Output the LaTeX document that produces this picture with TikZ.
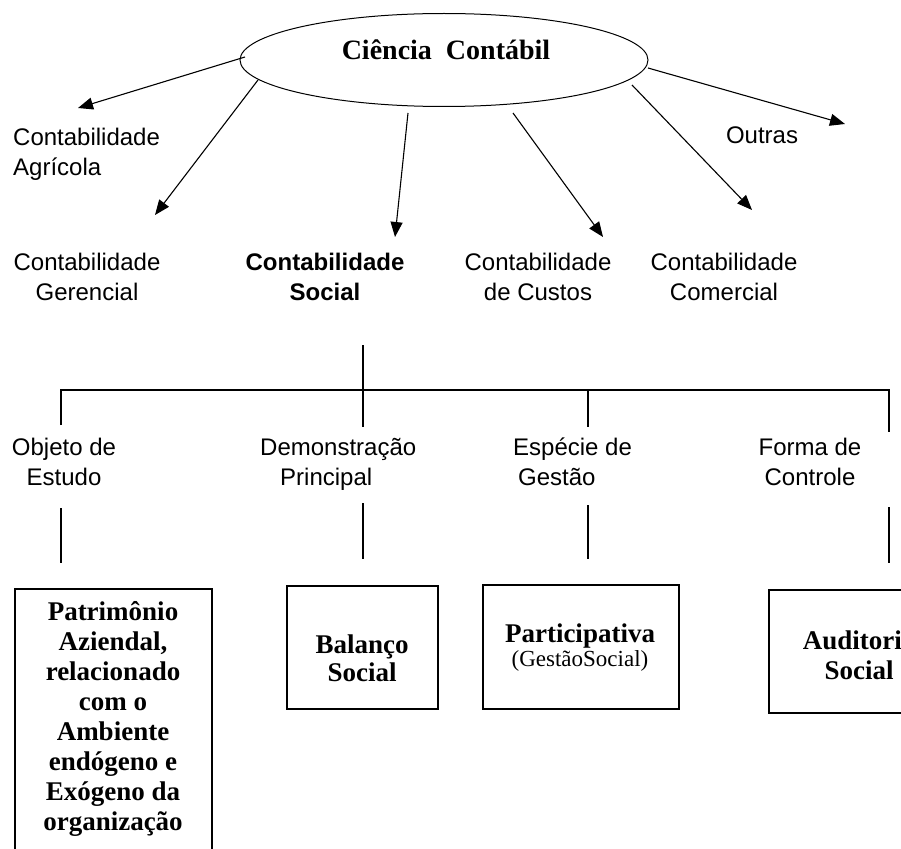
\documentclass[tikz,border=0pt]{standalone}
\usepackage{fontspec}
\setmainfont{Liberation Serif}
\newfontfamily\arialf{Liberation Sans}
\usetikzlibrary{shapes.geometric,arrows.meta}
\begin{document}
\begin{tikzpicture}[x=1pt,y=-1pt,
  lbl/.style={font=\arialf\fontsize{24}{30}\selectfont, inner sep=0pt, align=center},
  blbl/.style={font=\arialf\bfseries\fontsize{24}{30}\selectfont, inner sep=0pt, align=center},
  boxtxt/.style={font=\bfseries\fontsize{27}{30}\selectfont, align=center, inner sep=0pt},
  bx/.style={draw, line width=1.6pt, inner sep=0pt},
  arr/.style={-{Triangle[length=15pt,width=12pt]}, line width=1.1pt},
  ln/.style={line width=1.3pt}]
\useasboundingbox (0,0) rectangle (901,848);
\clip (0,0) rectangle (901,848);

% top ellipse
\node[ellipse, draw, line width=1pt, minimum width=408pt, minimum height=93pt, inner sep=0pt] (cc) at (444,60) {};
\node[font=\bfseries\fontsize{28}{30}\selectfont, inner sep=0pt] (cct) at (446,50) {Ciência\ \ Contábil};

% branch labels
\node[lbl, align=left, anchor=west] (agr) at (13,154) {Contabilidade\\Agrícola};
\node[lbl] (ger) at (87,277) {Contabilidade\\Gerencial};
\node[blbl] (soc) at (325,277) {Contabilidade\\Social};
\node[lbl] (cus) at (538,277) {Contabilidade\\de Custos};
\node[lbl] (com) at (724,277) {Contabilidade\\Comercial};
\node[lbl] (out) at (762,135) {Outras};

% arrow points
\coordinate (s1) at (245,57);  \coordinate (e1) at (78,108);
\coordinate (s2) at (258,80);  \coordinate (e2) at (155,215);
\coordinate (s3) at (408,113); \coordinate (e3) at (395,237);
\coordinate (s4) at (513,113); \coordinate (e4) at (603,237);
\coordinate (s5) at (632,85);  \coordinate (e5) at (752,210);
\coordinate (s6) at (648,68);  \coordinate (e6) at (845,124);
\foreach \i in {1,...,6} { \draw[arr] (s\i) -- (e\i); }

% tree lines
\coordinate (top) at (363,345);
\coordinate (mid) at (363,427);
\coordinate (hl) at (61,390);
\coordinate (hr) at (889,390);
\coordinate (dl) at (61,425);
\coordinate (dr) at (889,432);
\coordinate (dg) at (588,427);
\coordinate (hg) at (588,390);
\draw[ln] (top) -- (mid);
\draw[ln] (dl) -- (hl) -- (hr) -- (dr);
\draw[ln] (hg) -- (dg);

% second-level labels
\node[lbl] (obj) at (64,462) {Objeto de\\Estudo};
\node[lbl, align=left, anchor=west] (dem) at (260,464) {Demonstração\\\hspace{20pt}Principal};
\node[lbl, align=left, anchor=west] (esp) at (513,462) {Espécie de\\\hspace{5pt}Gestão};
\node[lbl] (for) at (810,462) {Forma de\\Controle};

% lower connectors
\coordinate (u1) at (61,508);  \coordinate (v1) at (61,563);
\coordinate (u2) at (363,503); \coordinate (v2) at (363,559);
\coordinate (u3) at (588,505); \coordinate (v3) at (588,559);
\coordinate (u4) at (889,507); \coordinate (v4) at (889,563);
\foreach \i in {1,...,4} { \draw[ln] (u\i) -- (v\i); }

% boxes
\node[bx, minimum width=197pt, minimum height=281pt] (b1) at (113.5,729.5) {};
\node[bx, minimum width=151pt, minimum height=123pt] (b2) at (362.5,647.5) {};
\node[bx, minimum width=196pt, minimum height=124pt] (b3) at (581,647) {};
\node[bx, minimum width=180pt, minimum height=123pt] (b4) at (859,651.5) {};

\node[boxtxt] (t1) at (113,719) {Patrimônio\\Aziendal,\\relacionado\\com o\\Ambiente\\endógeno e\\Exógeno da\\organização};
\node[boxtxt, font=\bfseries\fontsize{27}{28}\selectfont] (t2) at (362,658) {Balanço\\Social};
\node[inner sep=0pt, align=center, font=\fontsize{27}{24}\selectfont] (t3) at (580,648) {\textbf{Participativa}\\{\fontsize{23}{24}\selectfont (GestãoSocial)}};
\node[boxtxt] (t4) at (859,655) {Auditoria\\Social};
\end{tikzpicture}
\end{document}
